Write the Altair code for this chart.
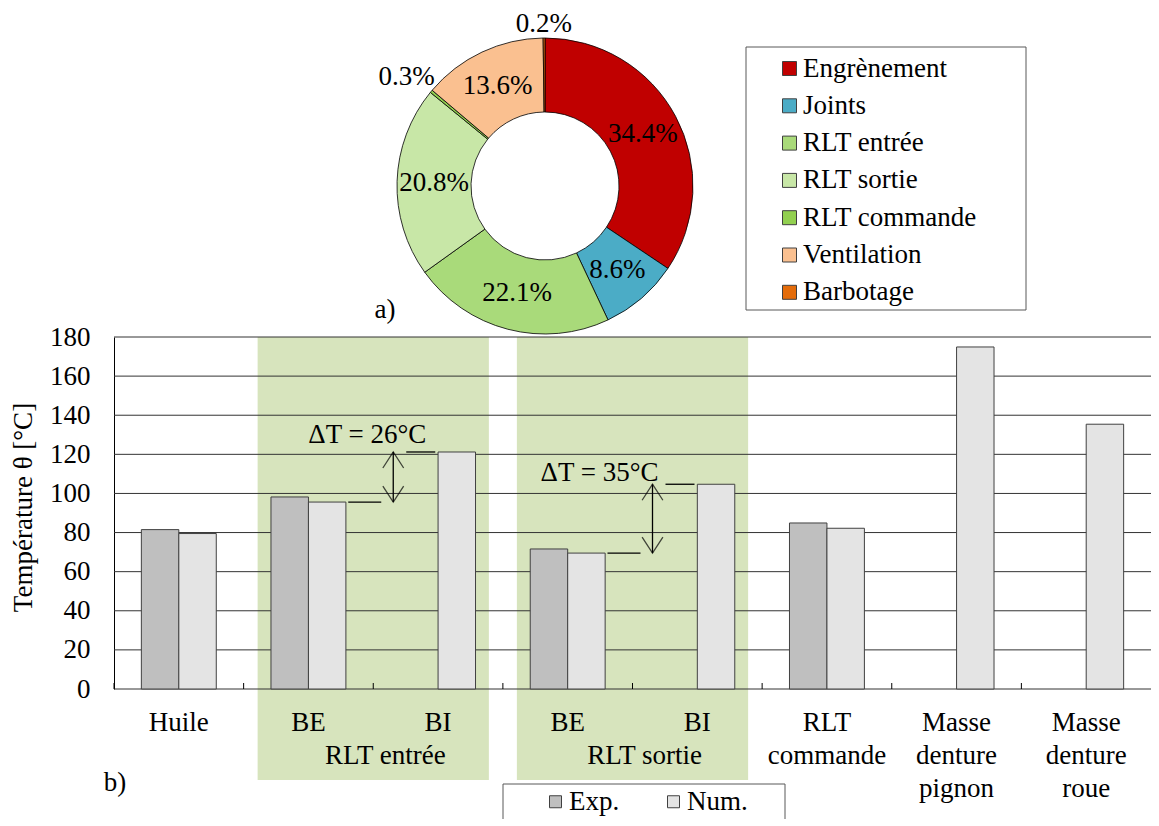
import altair as alt
import pandas as pd

FONT = "Liberation Serif"
FS = 27

# ---------------- data ----------------
loss_names = ["Engrènement", "Joints", "RLT entrée", "RLT sortie", "RLT commande", "Ventilation", "Barbotage"]
loss_pct = [34.4, 8.6, 22.1, 20.8, 0.3, 13.6, 0.2]
loss_colors = ["#C00000", "#4BACC6", "#A9DA7A", "#C8E7A7", "#92D050", "#FAC090", "#E46C0A"]

pos_ids = ["Huile", "BE_e", "BI_e", "BE_s", "BI_s", "RLT_c", "Masse_p", "Masse_r"]
pos_text = ["Huile", "BE", "BI", "BE", "BI", "RLT\ncommande", "Masse\ndenture\npignon", "Masse\ndenture\nroue"]
exp_vals = [81.5, 98.2, None, 71.6, None, 84.9, None, None]
num_vals = [79.5, 95.6, 121.2, 69.5, 104.7, 82.2, 174.9, 135.4]
series_names = ["Exp.", "Num."]
series_colors = ["#BFBFBF", "#E4E4E4"]
y_ticks = [0, 20, 40, 60, 80, 100, 120, 140, 160, 180]

group_names = ["RLT entrée", "RLT sortie"]
group_start = ["BE_e", "BE_s"]
group_end = ["BI_e", "BI_s"]

delta_text = ["ΔT = 26°C", "ΔT = 35°C"]
delta_low = [95.6, 69.5]
delta_high = [121.2, 104.7]
delta_at = ["BI_e", "BI_s"]

# ---------------- geometry ----------------
W, H = 1037, 352
PAD = {"left": 106, "top": 329, "right": 0, "bottom": 130}
CX, CY = 545 - 114, 186 - 337

xs = alt.Scale(domain=pos_ids, paddingInner=0, paddingOuter=0)
ys = alt.Scale(domain=[0, 180], nice=False, zero=True)
YT = "Température θ [°C]"

yaxis = alt.Axis(
    values=y_ticks, grid=False, ticks=False, domain=True, domainColor="black", domainWidth=1,
    labelFont=FONT, labelFontSize=FS, labelColor="black", labelPadding=24,
    titleFont=FONT, titleFontSize=FS, titleFontWeight="normal", titleColor="black",
    titlePadding=12, titleY=170,
)


def Yq(field):
    return alt.Y(field, scale=ys, axis=yaxis, title=YT)


# ---------------- shaded groups ----------------
band_df = pd.DataFrame({"g": group_names, "start": group_start, "end": group_end})
band = alt.Chart(band_df).mark_rect(color="#D7E4BD", xOffset=14, x2Offset=-14).encode(
    x=alt.X("start:N", bandPosition=0, scale=xs, axis=None),
    x2=alt.X2("end:N", bandPosition=1),
    y=alt.value(0),
    y2=alt.value(443),
)

grid = alt.Chart(pd.DataFrame({"t": y_ticks})).mark_rule(color="#333333", strokeWidth=1).encode(
    y=Yq("t:Q")
)

xticks = alt.Chart(pd.DataFrame({"p": pos_ids})).mark_rule(color="black", strokeWidth=1).encode(
    x=alt.X("p:N", bandPosition=0, scale=xs, axis=None),
    y=alt.value(H),
    y2=alt.value(H - 6),
)

# ---------------- bars ----------------
rows = []
for pid, e, n in zip(pos_ids, exp_vals, num_vals):
    if e is not None:
        rows.append({"p": pid, "s": "Exp.", "v": e})
    rows.append({"p": pid, "s": "Num.", "v": n})
bar_df = pd.DataFrame(rows)

leg2 = alt.Legend(
    title=None, orient="none", direction="horizontal", legendX=428, legendY=451,
    symbolType="square", symbolSize=144, symbolStrokeColor="#404040", symbolStrokeWidth=1,
    labelFont=FONT, labelFontSize=FS, labelColor="black", labelOffset=0, columnPadding=40,
    padding=0, labelLimit=300,
)
bars = alt.Chart(bar_df).mark_bar(stroke="#404040", strokeWidth=1).encode(
    x=alt.X("p:N", scale=xs, axis=None),
    xOffset=alt.XOffset("s:N", scale=alt.Scale(domain=series_names, paddingInner=0, paddingOuter=0.73)),
    y=Yq("v:Q"),
    color=alt.Color("s:N", scale=alt.Scale(domain=series_names, range=series_colors), legend=leg2),
)

# ---------------- x labels ----------------
xlab = alt.Chart(pd.DataFrame({"p": pos_ids, "t": pos_text})).mark_text(
    font=FONT, fontSize=FS, baseline="top", lineBreak="\n", lineHeight=33, color="black"
).encode(x=alt.X("p:N", scale=xs, axis=None), y=alt.value(H + 21), text="t:N")

glab = alt.Chart(band_df).mark_text(
    font=FONT, fontSize=FS, baseline="top", dx=12, color="black"
).encode(x=alt.X("end:N", bandPosition=0, scale=xs, axis=None), y=alt.value(H + 54), text="g:N")

# ---------------- annotations ----------------
ann_style = [{"dx": -6, "dy": -9}, {"dx": -33, "dy": -3}]
ann_layers = []
for i in range(2):
    adf = pd.DataFrame({"at": [delta_at[i]], "lo": [delta_low[i]], "hi": [delta_high[i]], "t": [delta_text[i]]})
    base = alt.Chart(adf)
    ax = alt.X("at:N", bandPosition=0, scale=xs, axis=None)
    ann_layers += [
        base.mark_rule(color="black", strokeWidth=1.3, xOffset=20).encode(
            x=ax, y=Yq("lo:Q"), y2="hi:Q"),
        base.mark_rule(color="black", strokeWidth=1.3, xOffset=-25, x2Offset=8).encode(
            x=ax, x2=alt.X2("at:N", bandPosition=0), y=Yq("lo:Q")),
        base.mark_rule(color="black", strokeWidth=1.3, xOffset=33, x2Offset=62).encode(
            x=ax, x2=alt.X2("at:N", bandPosition=0), y=Yq("hi:Q")),
        base.mark_point(shape="M-0.65,1L0,0L0.65,1", size=1024, filled=False, stroke="black",
                        strokeWidth=1.3, xOffset=20).encode(x=ax, y=Yq("hi:Q")),
        base.mark_point(shape="M-0.65,-1L0,0L0.65,-1", size=1024, filled=False, stroke="black",
                        strokeWidth=1.3, xOffset=20).encode(x=ax, y=Yq("lo:Q")),
        base.mark_text(font=FONT, fontSize=FS, baseline="alphabetic", color="black",
                       dx=ann_style[i]["dx"], dy=ann_style[i]["dy"]).encode(
            x=ax, y=Yq("hi:Q"), text="t:N"),
    ]

# ---------------- donut ----------------
donut_df = pd.DataFrame({"k": loss_names, "v": loss_pct, "i": list(range(len(loss_names)))})
donut_df["lbl"] = [f"{v}%" for v in loss_pct]
leg1 = alt.Legend(
    title=None, orient="none", legendX=662, legendY=-282,
    symbolType="square", symbolSize=196, symbolStrokeColor="#404040", symbolStrokeWidth=1,
    labelFont=FONT, labelFontSize=FS, labelColor="black", labelOffset=0, rowPadding=9.3,
    padding=0, labelLimit=300,
)
dbase = alt.Chart(donut_df).encode(
    theta=alt.Theta("v:Q", stack=True),
    order=alt.Order("i:Q"),
    x=alt.value(CX),
    y=alt.value(CY),
)
arc = dbase.mark_arc(innerRadius=74, outerRadius=148, stroke="black", strokeWidth=0.8).encode(
    color=alt.Color("k:N", scale=alt.Scale(domain=loss_names, range=loss_colors), legend=leg1)
)
tin = dbase.transform_calculate(tl="datum.v >= 1 ? datum.lbl : ''").mark_text(
    radius=111, font=FONT, fontSize=FS, color="black"
).encode(text="tl:N")
tout_a = dbase.transform_calculate(tl="datum.k == 'RLT commande' ? datum.lbl : ''").mark_text(
    radius=180, font=FONT, fontSize=FS, color="black", dy=6
).encode(text="tl:N")
tout_b = dbase.transform_calculate(tl="datum.k == 'Barbotage' ? datum.lbl : ''").mark_text(
    radius=162, font=FONT, fontSize=FS, color="black"
).encode(text="tl:N")

# ---------------- boxes and panel letters ----------------
one = pd.DataFrame({"a": [0]})
box1 = alt.Chart(one).mark_rect(fill="white", stroke="#595959", strokeWidth=1).encode(
    x=alt.value(632), x2=alt.value(912), y=alt.value(-290), y2=alt.value(-27))
box2 = alt.Chart(one).mark_rect(fill="white", stroke="#595959", strokeWidth=1).encode(
    x=alt.value(389), x2=alt.value(671), y=alt.value(447), y2=alt.value(530))
pa = alt.Chart(pd.DataFrame({"t": ["a)"]})).mark_text(font=FONT, fontSize=FS, color="black").encode(
    x=alt.value(271), y=alt.value(-27), text="t:N")
pb = alt.Chart(pd.DataFrame({"t": ["b)"]})).mark_text(font=FONT, fontSize=FS, color="black").encode(
    x=alt.value(1), y=alt.value(446), text="t:N")

chart = alt.layer(
    band, grid, xticks, bars, xlab, glab, *ann_layers, box1, box2, arc, tin, tout_a, tout_b, pa, pb
).resolve_scale(color="independent").properties(
    width=W, height=H,
    autosize=alt.AutoSizeParams(type="none"),
    padding=PAD,
).configure_view(strokeWidth=0)

chart.save("out.html", embed_options={"renderer": "svg", "actions": False})
